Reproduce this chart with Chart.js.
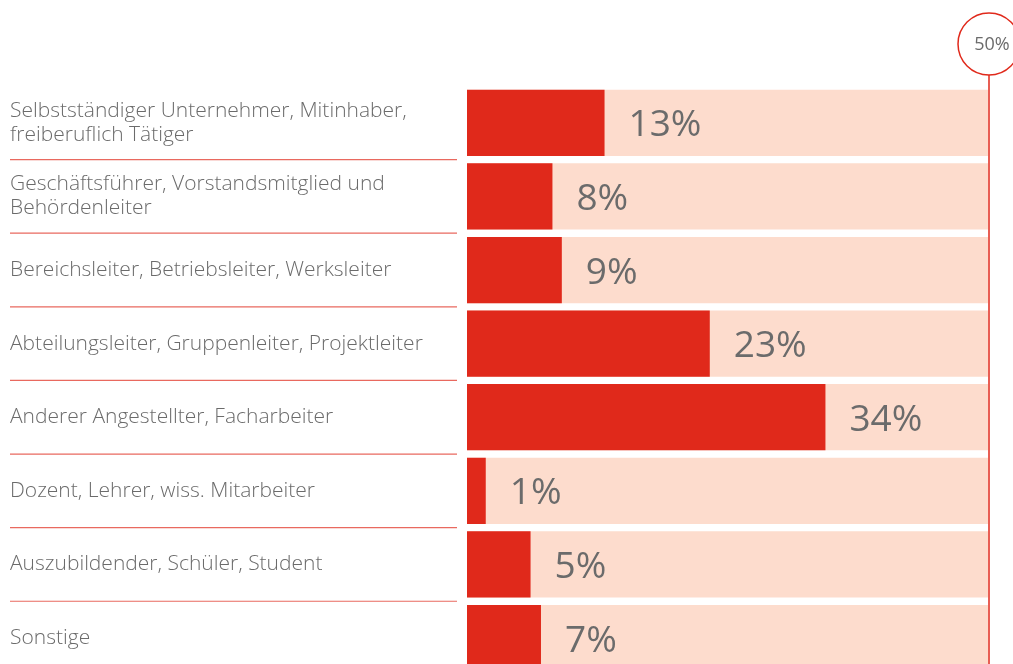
<!DOCTYPE html>
<html>
<head>
<meta charset="utf-8">
<script src="https://cdn.jsdelivr.net/npm/chart.js@4/dist/chart.umd.min.js"></script>
<style>
  html, body { margin: 0; padding: 0; background: #fff; overflow: hidden; }
  #wrap { position: relative; width: 1013px; height: 702px; }
</style>
</head>
<body>
<div id="wrap"><canvas id="c"></canvas></div>
<script>
const categories = [
  ["Selbstständiger Unternehmer, Mitinhaber,", "freiberuflich Tätiger"],
  ["Geschäftsführer, Vorstandsmitglied und", "Behördenleiter"],
  "Bereichsleiter, Betriebsleiter, Werksleiter",
  "Abteilungsleiter, Gruppenleiter, Projektleiter",
  "Anderer Angestellter, Facharbeiter",
  "Dozent, Lehrer, wiss. Mitarbeiter",
  "Auszubildender, Schüler, Student",
  "Sonstige"
];
const shares = [13.2, 8.2, 9.1, 23.3, 34.4, 1.8, 6.1, 7.1];
const shareLabels = ["13%", "8%", "9%", "23%", "34%", "1%", "5%", "7%"];
const scaleMax = 50;
const fullBars = categories.map(() => scaleMax);
const maxLabel = "50%";

const RED = "#e0291b";
const PALE = "#fddccd";
const GREY = "#6b6b6b";
const FONT = "'Open Sans', 'Noto Sans', sans-serif";

const decor = {
  id: "decor",
  afterDatasetsDraw(chart) {
    const ctx = chart.ctx;
    const x = chart.scales.x, y = chart.scales.y;
    ctx.save();
    ctx.strokeStyle = "rgba(224,41,27,0.7)";
    ctx.lineWidth = 1.2;
    for (let i = 0; i < categories.length - 1; i++) {
      const yy = (y.getPixelForValue(i) + y.getPixelForValue(i + 1)) / 2;
      ctx.beginPath();
      ctx.moveTo(10, yy);
      ctx.lineTo(457, yy);
      ctx.stroke();
    }
    ctx.fillStyle = GREY;
    ctx.font = "400 37px " + FONT;
    ctx.textAlign = "left";
    ctx.textBaseline = "middle";
    const meta = chart.getDatasetMeta(0);
    meta.data.forEach((bar, i) => {
      ctx.fillText(shareLabels[i], bar.x + 24, bar.y + 3);
    });
    const xm = x.getPixelForValue(scaleMax) + 1;
    const cy = 44, r = 31;
    ctx.strokeStyle = RED;
    ctx.lineWidth = 1.5;
    ctx.beginPath();
    ctx.moveTo(xm, cy + r);
    ctx.lineTo(xm, chart.height);
    ctx.stroke();
    ctx.beginPath();
    ctx.arc(xm, cy, r, 0, Math.PI * 2);
    ctx.fillStyle = "#fff";
    ctx.fill();
    ctx.stroke();
    ctx.fillStyle = GREY;
    ctx.font = "400 18px " + FONT;
    ctx.textAlign = "center";
    ctx.fillText(maxLabel, xm + 3, cy + 1);
    ctx.restore();
  }
};

new Chart(document.getElementById("c"), {
  type: "bar",
  data: {
    labels: categories,
    datasets: [
      { data: shares, backgroundColor: RED, grouped: false, order: 0,
        barPercentage: 0.9, categoryPercentage: 1 },
      { data: fullBars, backgroundColor: PALE, grouped: false, order: 1,
        barPercentage: 0.9, categoryPercentage: 1 }
    ]
  },
  options: {
    indexAxis: "y",
    responsive: true,
    maintainAspectRatio: false,
    animation: false,
    layout: { padding: { left: 10, top: 86, right: 25, bottom: 0 } },
    plugins: { legend: { display: false }, tooltip: { enabled: false } },
    scales: {
      x: { display: false, min: 0, max: scaleMax },
      y: {
        grid: { display: false },
        border: { display: false },
        afterFit(scale) { scale.width = 457; },
        ticks: {
          crossAlign: "far",
          color: GREY,
          font: { family: FONT, size: 21, weight: 300, lineHeight: 1.15 },
          autoSkip: false
        }
      }
    }
  },
  plugins: [decor]
});
</script>
</body>
</html>
